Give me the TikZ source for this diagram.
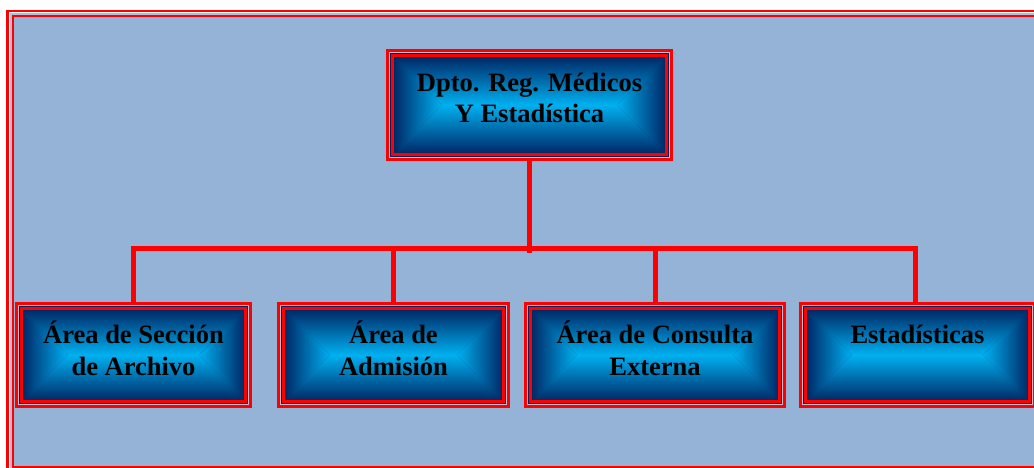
\documentclass[tikz,border=0pt]{standalone}
\usepackage{fontspec}
\setmainfont{Liberation Serif}
\usetikzlibrary{calc}

\definecolor{pageblue}{RGB}{149,179,215}
\definecolor{deepnavy}{RGB}{0,36,98}
\definecolor{glowcyan}{RGB}{0,176,240}
\definecolor{rulered}{RGB}{255,0,0}
\definecolor{hairgray}{RGB}{180,190,212}

\tikzset{
  % box with a rectangular "from centre" glow and a red double rule
  orgbox/.style={rectangle, inner sep=0pt, fill=deepnavy, minimum height=106pt,
    path picture={
      \path let \p1=($(path picture bounding box.north east)-(path picture bounding box.south west)$),
                \n1={\y1/2-6pt} in
        coordinate (gNW) at ([shift={(6pt,-6pt)}]path picture bounding box.north west)
        coordinate (gNE) at ([shift={(-6pt,-6pt)}]path picture bounding box.north east)
        coordinate (gSW) at ([shift={(6pt,6pt)}]path picture bounding box.south west)
        coordinate (gSE) at ([shift={(-6pt,6pt)}]path picture bounding box.south east)
        coordinate (gL) at ([xshift={6pt+\n1}]path picture bounding box.west)
        coordinate (gR) at ([xshift={-6pt-\n1}]path picture bounding box.east);
      \shade[top color=deepnavy, bottom color=glowcyan] (gNW) -- (gNE) -- (gR) -- (gL) -- cycle;
      \shade[top color=glowcyan, bottom color=deepnavy] (gL) -- (gR) -- (gSE) -- (gSW) -- cycle;
      \shade[left color=deepnavy, right color=glowcyan] (gNW) -- (gL) -- (gSW) -- cycle;
      \shade[left color=glowcyan, right color=deepnavy] (gNE) -- (gR) -- (gSE) -- cycle;
      \draw[rulered, line width=3pt]
        ([shift={(1.5pt,-1.5pt)}]path picture bounding box.north west) rectangle
        ([shift={(-1.5pt,1.5pt)}]path picture bounding box.south east);
      \draw[hairgray, line width=1pt]
        ([shift={(3.5pt,-3.5pt)}]path picture bounding box.north west) rectangle
        ([shift={(-3.5pt,3.5pt)}]path picture bounding box.south east);
      \draw[rulered, line width=2.7pt]
        ([shift={(6.4pt,-6.4pt)}]path picture bounding box.north west) rectangle
        ([shift={(-6.4pt,6.4pt)}]path picture bounding box.south east);
    }},
  boxtext/.style={align=center, inner sep=0pt, text=black,
    font=\bfseries\fontsize{26.5pt}{32pt}\selectfont},
  conn/.style={rulered, line width=5pt}
}

\begin{document}
\begin{tikzpicture}[x=1pt, y=-1pt]
  \useasboundingbox (0,0) rectangle (1034,468);
  \clip (0,0) rectangle (1034,468);

  % page frame
  \fill[white] (0,0) rectangle (1034,468);
  \fill[pageblue] (13.3,16.2) rectangle (1050,480);
  \draw[rulered, line width=2.6pt] (7.6,11.2) rectangle (1055,490);
  \draw[hairgray, line width=1.5pt] (10.8,14) rectangle (1052,485);
  \draw[rulered, line width=2pt] (13.3,16.2) rectangle (1048,466.8);

  % boxes
  \node[orgbox, minimum width=287pt, minimum height=112pt] (dept) at (529.5,105) {};
  \node[orgbox, minimum width=237pt] (b1) at (133.5,355) {};
  \node[orgbox, minimum width=233pt] (b2) at (393.5,355) {};
  \node[orgbox, minimum width=262pt] (b3) at (655,355) {};
  \node[orgbox, minimum width=237pt] (b4) at (917.5,355) {};

  % labels (base anchor sits on the last line)
  \node[boxtext, anchor=base, font=\bfseries\fontsize{26.5pt}{31pt}\selectfont]
    (dept-t) at ($(dept.north)+(0,74)$) {Dpto. Reg. Médicos\\Y Estadística};
  \node[boxtext, anchor=base] (b1-t) at ($(b1.north)+(0,74)$) {Área de Sección\\de Archivo};
  \node[boxtext, anchor=base] (b2-t) at ($(b2.north)+(0,74)$) {Área de\\Admisión};
  \node[boxtext, anchor=base] (b3-t) at ($(b3.north)+(0,74)$) {Área de Consulta\\Externa};
  \node[boxtext, anchor=base] (b4-t) at ($(b4.north)+(0,42)$) {Estadísticas};

  % connectors
  \coordinate (bus) at (0,248);
  \draw[conn] (dept.south) -- ([yshift=-5pt]dept.south |- bus);
  \draw[conn] ([xshift=-2.5pt]b1.north |- bus) -- ([xshift=0.5pt]b4.north |- bus);
  \foreach \b in {b1,b2,b3} \draw[conn] (\b.north |- bus) -- (\b.north);
  \draw[conn] ([xshift=-2pt]b4.north |- bus) -- ([xshift=-2pt]b4.north);
\end{tikzpicture}
\end{document}
